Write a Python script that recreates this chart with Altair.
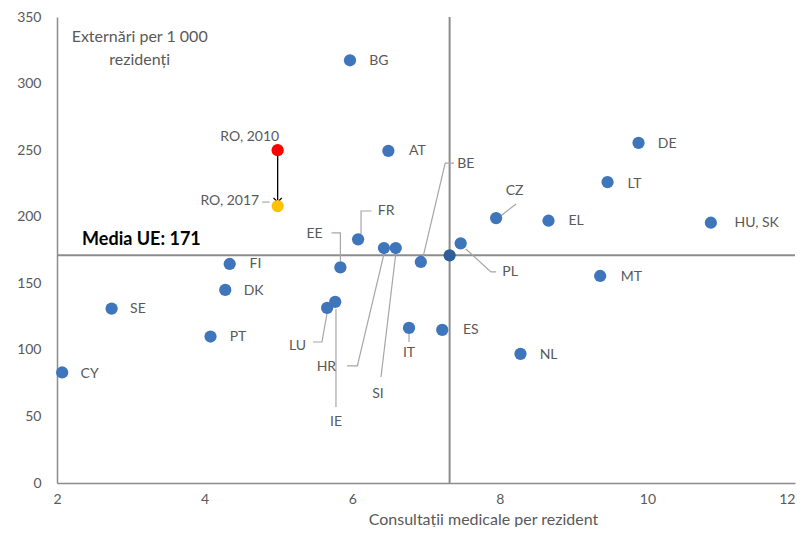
import altair as alt
import pandas as pd

# ---------------- data ----------------
countries = ["CY", "SE", "PT", "DK", "FI", "BG", "AT", "FR", "EE", "HR", "SI", "BE",
             "PL", "CZ", "LU", "IE", "IT", "ES", "NL", "EL", "MT", "LT", "DE", "HU, SK"]
consultations = [2.07, 2.74, 4.08, 4.28, 4.34, 5.97, 6.49, 6.08, 5.84, 6.43, 6.59, 6.93,
                 7.47, 7.95, 5.66, 5.77, 6.77, 7.22, 8.28, 8.66, 9.36, 9.46, 9.88, 10.86]
discharges = [83, 131, 110, 145, 164.5, 317.5, 249.5, 183, 162, 176.5, 176.5, 166,
              180, 199, 131.5, 136, 116.5, 115, 97, 197, 155.5, 226, 255.5, 195.5]

eu_consult = 7.32
eu_discharges = 171

ro_labels = ["RO, 2010", "RO, 2017"]
ro_consult = [4.99, 4.99]
ro_discharges = [250, 208]
ro_colors = ["#ff0000", "#ffc000"]

# label placement (data units) - layout only
labels_left = {
    "BG": (6.23, 317), "AT": (6.77, 249.4), "DE": (10.14, 254.6), "LT": (9.73, 224.6),
    "EL": (8.93, 196.8), "HU, SK": (11.18, 195.3), "MT": (9.64, 154.7), "NL": (8.54, 96.1),
    "ES": (7.50, 114.9), "FI": (4.61, 164.5), "DK": (4.53, 144.2), "SE": (2.99, 130.7),
    "PT": (4.34, 109.7), "CY": (2.32, 81.9),
}
labels_center = {
    "CZ": (8.20, 219.3), "IT": (6.77, 97.6), "SI": (6.35, 66.8), "HR": (5.65, 87.1),
    "IE": (5.78, 45.8), "LU": (5.26, 102.9), "EE": (5.49, 187.0), "FR": (6.46, 204.3),
    "BE": (7.54, 239.6), "PL": (8.14, 158.5),
}
labels_right = {"RO, 2010": (5.01, 259.9), "RO, 2017": (4.74, 211.8)}

leaders = {
    "CZ": [(8.01, 200.5), (8.22, 209.6)],
    "IT": [(6.77, 111.9), (6.77, 105.9)],
    "SI": [(6.59, 172), (6.39, 79.6)],
    "HR": [(6.43, 172), (6.07, 87.9), (5.93, 87.9)],
    "IE": [(5.78, 130.7), (5.78, 57.1)],
    "LU": [(5.66, 127.7), (5.59, 105.9), (5.47, 105.9)],
    "EE": [(5.72, 187.8), (5.84, 187.8), (5.84, 166.7)],
    "FR": [(6.26, 204.3), (6.12, 204.3), (6.12, 187)],
    "BE": [(7.38, 240.3), (7.26, 240.3), (6.96, 169.7)],
    "PL": [(7.54, 175.8), (7.88, 158.5), (7.95, 158.5)],
    "RO": [(4.78, 211), (4.88, 211)],
}

# ---------------- tables ----------------
pts = pd.DataFrame({"country": countries, "x": consultations, "y": discharges})
eu = pd.DataFrame({"x": [eu_consult], "y": [eu_discharges]})
ro = pd.DataFrame({"label": ro_labels, "x": ro_consult, "y": ro_discharges, "c": ro_colors})

def lab_df(d):
    return pd.DataFrame({"t": list(d.keys()),
                         "x": [v[0] for v in d.values()],
                         "y": [v[1] for v in d.values()]})

lead_rows = []
for k, seg in leaders.items():
    for i, (a, b) in enumerate(seg):
        lead_rows.append({"g": k, "o": i, "x": a, "y": b})
lead = pd.DataFrame(lead_rows)

FONT = "Lato"
GREY = "#595959"
LINE = "#8c8c8c"
BLUE = "#3f75ba"

xs = alt.Scale(domain=[2, 12], nice=False)
ys = alt.Scale(domain=[0, 350], nice=False)
xaxis = alt.Axis(values=[2, 4, 6, 8, 10, 12], title="Consultații medicale per rezident",
                 titleX=426, titleY=36, titleAlign="center", titleBaseline="middle",
                 titleFontWeight="normal", titleFontSize=16, titleColor=GREY, titleFont=FONT,
                 labelPadding=9,
                 labelAlign={"condition": {"test": "datum.value == 12", "value": "right"},
                             "value": "center"})
yaxis = alt.Axis(values=[0, 50, 100, 150, 200, 250, 300, 350], title=None, labelPadding=16)

def X(f="x"):
    return alt.X(f"{f}:Q", scale=xs, axis=xaxis)

def Y(f="y"):
    return alt.Y(f"{f}:Q", scale=ys, axis=yaxis)

vline = alt.Chart(eu).mark_rule(color=LINE, strokeWidth=2).encode(x=X())
hline = alt.Chart(eu).mark_rule(color=LINE, strokeWidth=2).encode(y=Y())

leader_lines = alt.Chart(lead).mark_line(color="#a6a6a6", strokeWidth=1.2).encode(
    x=X(), y=Y(), detail="g:N", order="o:Q")

arrow_df = pd.DataFrame({"x": [ro_consult[0]], "y": [ro_discharges[0]], "y2": [ro_discharges[1] + 3]})
arrow = alt.Chart(arrow_df).mark_rule(color="black", strokeWidth=1.3).encode(
    x=X(), y=Y(), y2="y2:Q")
head = alt.Chart(arrow_df).mark_point(shape="M-1,-1L0,0L1,-1", filled=False, color="black",
                                      size=70, strokeWidth=1.3, opacity=1).encode(
    x=X(), y=alt.Y("y2:Q", scale=ys, axis=yaxis))

dots = alt.Chart(pts).mark_circle(size=150, color=BLUE, opacity=1).encode(x=X(), y=Y())
eu_dot = alt.Chart(eu).mark_circle(size=150, color="#2f5f96", opacity=1).encode(x=X(), y=Y())
ro_dots = alt.Chart(ro).mark_circle(size=150, opacity=1).encode(
    x=X(), y=Y(), color=alt.Color("c:N", scale=None))

t_left = alt.Chart(lab_df(labels_left)).mark_text(align="left", baseline="middle", font=FONT,
                                                   fontSize=14, color=GREY).encode(x=X(), y=Y(), text="t:N")
t_center = alt.Chart(lab_df(labels_center)).mark_text(align="center", baseline="middle", font=FONT,
                                                       fontSize=14, color=GREY).encode(x=X(), y=Y(), text="t:N")
t_right = alt.Chart(lab_df(labels_right)).mark_text(align="right", baseline="middle", font=FONT,
                                                     fontSize=14, color=GREY).encode(x=X(), y=Y(), text="t:N")

media = alt.Chart(pd.DataFrame({"x": [2.34], "y": [182.5], "t": [f"Media UE: {eu_discharges}"]})).mark_text(
    align="left", baseline="middle", font=FONT, fontSize=18, fontWeight="bold", color="black").encode(
    x=X(), y=Y(), text="t:N")

ytitle = alt.Chart(pd.DataFrame({"x": [3.12, 3.12], "y": [335, 318],
                                 "t": ["Externări per 1 000", "rezidenți"]})).mark_text(
    align="center", baseline="middle", font=FONT, fontSize=16, color=GREY).encode(
    x=X(), y=Y(), text="t:N")

chart = alt.layer(vline, hline, leader_lines, arrow, head, dots, eu_dot, ro_dots,
                  t_left, t_center, t_right, media, ytitle).properties(
    width=788, height=519,
    autosize=alt.AutoSizeParams(type="fit", contains="padding"),
    padding={"left": 8, "top": 2, "right": 0, "bottom": 0},
).configure_axis(
    grid=False, ticks=False, domainColor=LINE, domainWidth=1.5,
    labelColor=GREY, labelFont=FONT, labelFontSize=14,
).configure_view(stroke=None)

chart.save("out.html", embed_options={"renderer": "svg", "actions": False})
